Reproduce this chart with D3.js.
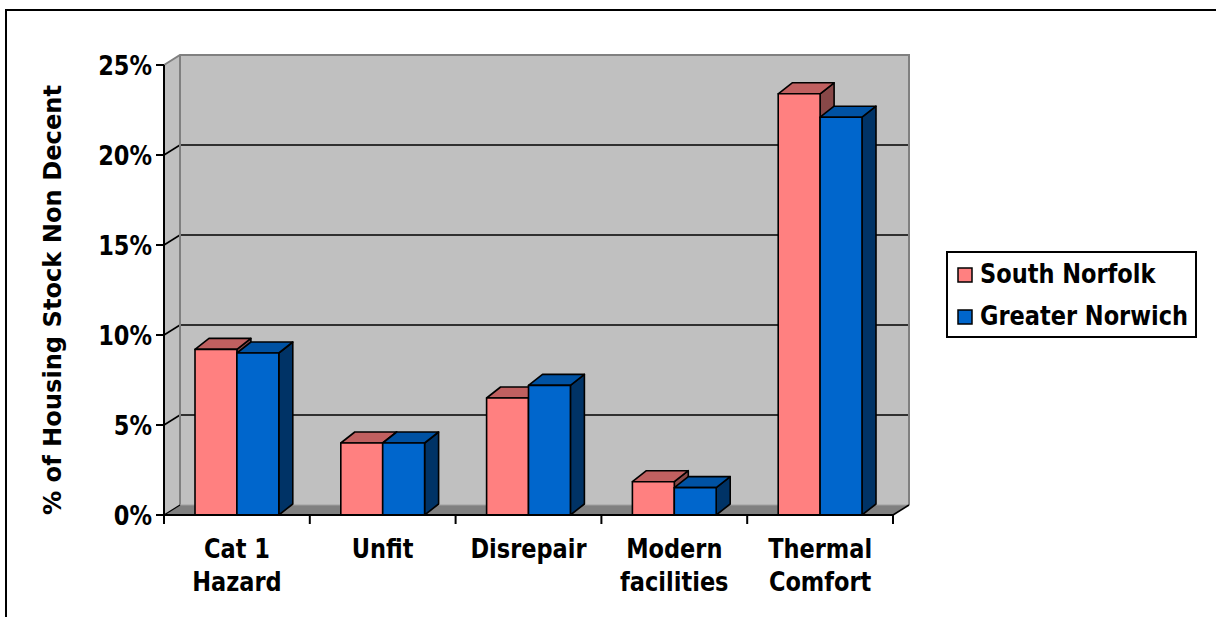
<!DOCTYPE html>
<html>
<head>
<meta charset="utf-8">
<script src="https://cdn.jsdelivr.net/npm/d3@7"></script>
<style>
  html, body { margin: 0; padding: 0; background: #ffffff; }
  svg { display: block; }
  text { font-family: "DejaVu Sans Condensed", "DejaVu Sans", sans-serif; font-weight: bold; fill: #000; }
</style>
</head>
<body>
<script>
// Share of housing stock failing the Decent Homes standard, by reason
const categories = [["Cat 1", "Hazard"], ["Unfit"], ["Disrepair"], ["Modern", "facilities"], ["Thermal", "Comfort"]];
const seriesNames = ["South Norfolk", "Greater Norwich"];
const southNorfolk = [0.092, 0.040, 0.065, 0.0185, 0.234];
const greaterNorwich = [0.090, 0.040, 0.072, 0.0152, 0.221];
const yTicks = [0, 0.05, 0.10, 0.15, 0.20, 0.25];

const W = 1216, H = 617;
const FS = 25, STRETCH = 1.08;   // label font size and vertical stretch of the lettering
const svg = d3.select("body").append("svg").attr("width", W).attr("height", H);

// Places a label with its baseline at (tx, ty), lettering stretched vertically
function label(parent, tx, ty, anchor, str) {
  return parent.append("text")
    .attr("transform", `translate(${tx},${ty}) scale(1,${STRETCH})`)
    .attr("text-anchor", anchor).attr("font-size", FS).text(str);
}

// Outer chart frame (runs off the right and bottom edges)
svg.append("rect").attr("x", 6).attr("y", 10).attr("width", 1230).attr("height", 640)
  .attr("fill", "none").attr("stroke", "#000").attr("stroke-width", 2);

// Front plane of the 3-D plot and its depth offset
const x0 = 164, x1 = 893;
const y = d3.scaleLinear().domain([0, 0.25]).range([515, 65]);
const depth = { dx: 16, dy: -10 };      // wall depth
const barDepth = { dx: 14, dy: -11 };   // column depth

const x = d3.scaleBand().domain(d3.range(categories.length)).range([x0, x1]);
const inner = d3.scaleBand().domain(seriesNames).range([0, x.bandwidth()]).paddingOuter(0.74).paddingInner(0);

const yFront0 = y(0);
const yBack = v => y(v) + depth.dy;
const xBackL = x0 + depth.dx, xBackR = x1 + depth.dx;

const g = svg.append("g");

// Back wall
g.append("rect").attr("x", xBackL).attr("y", yBack(0.25)).attr("width", xBackR - xBackL)
  .attr("height", yBack(0) - yBack(0.25)).attr("fill", "#c0c0c0");
// Left side wall
g.append("path").attr("d", `M${x0},${y(0.25)} L${xBackL},${yBack(0.25)} L${xBackL},${yBack(0)} L${x0},${yFront0} Z`)
  .attr("fill", "#c0c0c0");
// Floor
g.append("path").attr("d", `M${x0},${yFront0} L${x1},${yFront0} L${xBackR},${yBack(0)} L${xBackL},${yBack(0)} Z`)
  .attr("fill", "#808080");

// Gridlines across the back wall and the side wall
yTicks.filter(t => t > 0 && t < 0.25).forEach(t => {
  g.append("line").attr("x1", xBackL).attr("x2", xBackR).attr("y1", yBack(t)).attr("y2", yBack(t))
    .attr("stroke", "#000").attr("stroke-width", 1.6);
  g.append("line").attr("x1", x0).attr("x2", xBackL).attr("y1", y(t)).attr("y2", yBack(t))
    .attr("stroke", "#000").attr("stroke-width", 1.6);
});

// Wall edges
g.append("path").attr("d", `M${x0},${y(0.25)} L${xBackL},${yBack(0.25)} L${xBackR},${yBack(0.25)} L${xBackR},${yBack(0)}`)
  .attr("fill", "none").attr("stroke", "#808080").attr("stroke-width", 2);
g.append("line").attr("x1", xBackL).attr("x2", xBackL).attr("y1", yBack(0.25)).attr("y2", yBack(0))
  .attr("stroke", "#808080").attr("stroke-width", 2);
g.append("line").attr("x1", xBackL).attr("x2", xBackR).attr("y1", yBack(0)).attr("y2", yBack(0))
  .attr("stroke", "#a0a0a0").attr("stroke-width", 1);
g.append("line").attr("x1", x1).attr("x2", xBackR).attr("y1", yFront0).attr("y2", yBack(0))
  .attr("stroke", "#000").attr("stroke-width", 1.6);
g.append("line").attr("x1", x0).attr("x2", xBackL).attr("y1", yFront0).attr("y2", yBack(0))
  .attr("stroke", "#000").attr("stroke-width", 1.2);

// Columns
const palette = {
  "South Norfolk": { front: "#ff8080", top: "#c06060", side: "#884848" },
  "Greater Norwich": { front: "#0066cc", top: "#0052a3", side: "#003366" }
};
const values = { "South Norfolk": southNorfolk, "Greater Norwich": greaterNorwich };
const bars = g.append("g");
categories.forEach((c, i) => {
  seriesNames.forEach(s => {
    const v = values[s][i];
    const bx = x(i) + inner(s), bw = inner.bandwidth();
    const top = y(v), bot = yFront0;
    const col = palette[s];
    const dx = barDepth.dx, dy = barDepth.dy;
    const bg = bars.append("g").attr("stroke", "#000").attr("stroke-width", 1.6).attr("stroke-linejoin", "round");
    bg.append("path").attr("fill", col.side)
      .attr("d", `M${bx + bw},${top} L${bx + bw + dx},${top + dy} L${bx + bw + dx},${bot + dy} L${bx + bw},${bot} Z`);
    bg.append("path").attr("fill", col.top)
      .attr("d", `M${bx},${top} L${bx + dx},${top + dy} L${bx + bw + dx},${top + dy} L${bx + bw},${top} Z`);
    bg.append("rect").attr("fill", col.front).attr("x", bx).attr("y", top).attr("width", bw).attr("height", bot - top);
  });
});

// Value axis
const yAxis = svg.append("g");
yAxis.append("line").attr("x1", x0).attr("x2", x0).attr("y1", y(0.25)).attr("y2", yFront0)
  .attr("stroke", "#000").attr("stroke-width", 2);
yTicks.forEach(t => {
  yAxis.append("line").attr("x1", x0 - 8).attr("x2", x0).attr("y1", y(t)).attr("y2", y(t))
    .attr("stroke", "#000").attr("stroke-width", 2);
  label(yAxis, x0 - 12, y(t) + 10, "end", d3.format(".0%")(t));
});

// Category axis
const xAxis = svg.append("g");
xAxis.append("line").attr("x1", x0).attr("x2", x1).attr("y1", yFront0).attr("y2", yFront0)
  .attr("stroke", "#000").attr("stroke-width", 2);
d3.range(categories.length + 1).forEach(i => {
  const tx = x0 + i * x.step();
  xAxis.append("line").attr("x1", tx).attr("x2", tx).attr("y1", yFront0).attr("y2", yFront0 + 9)
    .attr("stroke", "#000").attr("stroke-width", 2);
});
categories.forEach((c, i) => {
  c.forEach((line, k) => label(xAxis, x(i) + x.bandwidth() / 2, 558 + k * 33, "middle", line));
});

// Axis title
svg.append("text").attr("transform", `translate(61,300) rotate(-90)`).attr("text-anchor", "middle")
  .attr("font-size", FS).attr("textLength", 430).attr("lengthAdjust", "spacingAndGlyphs")
  .text("% of Housing Stock Non Decent");

// Legend
const lg = svg.append("g");
lg.append("rect").attr("x", 947).attr("y", 252).attr("width", 249).attr("height", 85)
  .attr("fill", "#fff").attr("stroke", "#000").attr("stroke-width", 2);
seriesNames.forEach((s, k) => {
  const ly = 268 + k * 42;
  lg.append("rect").attr("x", 958).attr("y", ly).attr("width", 14).attr("height", 14)
    .attr("fill", palette[s].front).attr("stroke", "#000").attr("stroke-width", 1.5);
  label(lg, 980, ly + 15, "start", s);
});
</script>
</body>
</html>
